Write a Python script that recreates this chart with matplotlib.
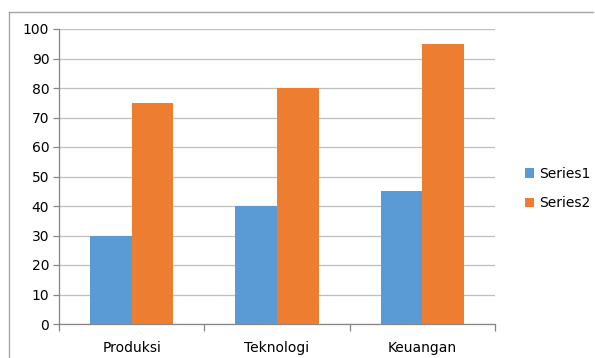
import numpy as np
import matplotlib
matplotlib.use("Agg")
import matplotlib.pyplot as plt
from matplotlib.lines import Line2D

# data
categories = ["Produksi", "Teknologi", "Keuangan"]
series1 = [30, 40, 45]
series2 = [75, 80, 95]
series_names = ["Series1", "Series2"]
colors = ["#5B9BD5", "#ED7D31"]

plt.rcParams['font.family'] = ['DejaVu Sans']

fig = plt.figure(figsize=(5.95, 3.58), dpi=100)
ax = fig.add_axes([59/595, 1 - 324/358, 436/595, 295/358])

# outer chart border (only top/left visible in reference)
top = 1 - 11.5/358
left = 8.5/595
fig.lines.append(Line2D([left, left], [0, top], transform=fig.transFigure,
                        color="#A6A6A6", linewidth=1))
fig.lines.append(Line2D([left, 0.997], [top, top], transform=fig.transFigure,
                        color="#A6A6A6", linewidth=1))

x = np.arange(len(categories))
w = 0.286
ax.bar(x - w/2, series1, w, color=colors[0], label=series_names[0], zorder=3)
ax.bar(x + w/2, series2, w, color=colors[1], label=series_names[1], zorder=3)

ax.set_xlim(-0.5, 2.5)
ax.set_ylim(0, 100)
ax.set_yticks(range(0, 101, 10))
ax.yaxis.grid(True, color="#BFBFBF", linewidth=0.9, zorder=0)

ax.set_xticks(x)
ax.set_xticklabels(categories, fontsize=10)
ax.set_xticks([-0.5, 0.5, 1.5, 2.5], minor=True)
ax.tick_params(axis='x', which='major', length=0, pad=12)
ax.tick_params(axis='x', which='minor', length=5, color="#868686", width=0.9)
ax.tick_params(axis='y', length=4, color="#868686", width=0.9, labelsize=10, pad=3)

for s in ["top", "right"]:
    ax.spines[s].set_visible(False)
ax.spines["left"].set_color("#868686")
ax.spines["bottom"].set_color("#868686")
ax.spines["left"].set_linewidth(0.9)
ax.spines["bottom"].set_linewidth(0.9)

ax.legend(loc="center left", bbox_to_anchor=(1.04, 0.459), frameon=False,
          fontsize=10, handlelength=0.65, handleheight=0.65, handletextpad=0.4,
          labelspacing=1.1)

fig.savefig("out.png", dpi=100)
